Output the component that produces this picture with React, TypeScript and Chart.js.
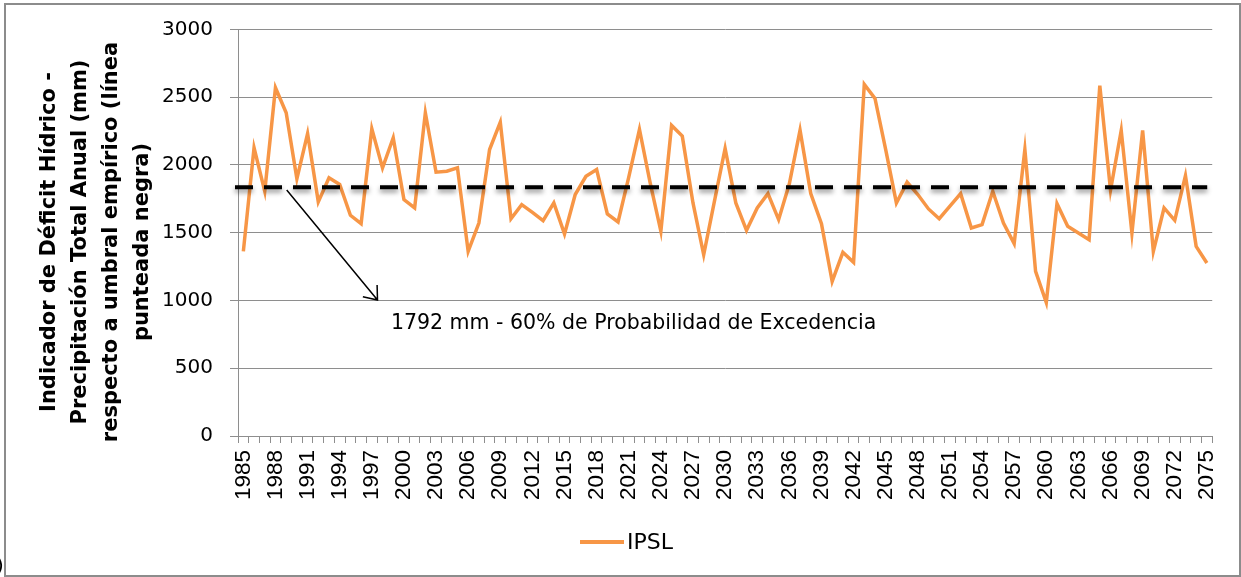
import React, { useEffect, useRef } from 'react';
import { Chart, registerables } from 'chart.js';

Chart.register(...registerables);

const years: string[] = [
  '1985', '1986', '1987', '1988', '1989', '1990', '1991', '1992', '1993', '1994',
  '1995', '1996', '1997', '1998', '1999', '2000', '2001', '2002', '2003', '2004',
  '2005', '2006', '2007', '2008', '2009', '2010', '2011', '2012', '2013', '2014',
  '2015', '2016', '2017', '2018', '2019', '2020', '2021', '2022', '2023', '2024',
  '2025', '2026', '2027', '2028', '2029', '2030', '2031', '2032', '2033', '2034',
  '2035', '2036', '2037', '2038', '2039', '2040', '2041', '2042', '2043', '2044',
  '2045', '2046', '2047', '2048', '2049', '2050', '2051', '2052', '2053', '2054',
  '2055', '2056', '2057', '2058', '2059', '2060', '2061', '2062', '2063', '2064',
  '2065', '2066', '2067', '2068', '2069', '2070', '2071', '2072', '2073', '2074',
  '2075',
];

const ipslValues: number[] = [
  1362, 2126, 1805, 2569, 2384, 1897, 2231, 1727, 1904, 1855,
  1628, 1566, 2266, 1978, 2200, 1744, 1682, 2384, 1946, 1953,
  1978, 1362, 1571, 2113, 2315, 1603, 1707, 1650, 1589, 1719,
  1490, 1781, 1916, 1966, 1638, 1579, 1910, 2261, 1867, 1510,
  2291, 2212, 1719, 1337, 1731, 2121, 1719, 1517, 1682, 1788,
  1596, 1860, 2256, 1788, 1566, 1140, 1355, 1281, 2594, 2490,
  2113, 1719, 1872, 1781, 1675, 1603, 1695, 1788, 1534, 1559,
  1805, 1571, 1419, 2113, 1214, 985, 1714, 1547, 1497, 1448,
  2585, 1813, 2254, 1497, 2254, 1362, 1682, 1591, 1921, 1399,
  1276,
];

const yTickLabels: string[] = ['0', '500', '1000', '1500', '2000', '2500', '3000'];

const seriesLabel = 'IPSL';
const thresholdValue = 1835;
const annotationText = '1792 mm - 60% de Probabilidad de Excedencia';
const yAxisTitle: string[] = [
  'Indicador de Déficit Hídrico -',
  'Precipitación Total Anual (mm)',
  'respecto a umbral empírico (línea',
  'punteada negra)',
];
// arrow / annotation anchor points in data units (category index, value)
const arrowFrom = { x: 4.05, y: 1815 };
const arrowTo = { x: 12.53, y: 1003 };
const annotationAnchor = { x: 13.78, y: 787 };

const ORANGE = '#F79646';
const GRID = '#8e8e8e';

const overlayPlugin = {
  id: 'overlay',
  afterDatasetsDraw(chart: any) {
    const { ctx, chartArea } = chart;
    const xs = chart.scales.x;
    const ys = chart.scales.y;
    // threshold dashed line
    const ty = ys.getPixelForValue(thresholdValue);
    ctx.save();
    ctx.strokeStyle = '#000';
    ctx.lineWidth = 4;
    ctx.lineCap = 'butt';
    ctx.setLineDash([18, 11]);
    ctx.shadowColor = 'rgba(0,0,0,0.45)';
    ctx.shadowBlur = 5;
    ctx.shadowOffsetY = 3;
    ctx.beginPath();
    ctx.moveTo(chartArea.left - 3, ty);
    ctx.lineTo(chartArea.right - 5, ty);
    ctx.stroke();
    ctx.restore();

    // arrow
    const x1 = xs.getPixelForValue(arrowFrom.x);
    const y1 = ys.getPixelForValue(arrowFrom.y);
    const x2 = xs.getPixelForValue(arrowTo.x);
    const y2 = ys.getPixelForValue(arrowTo.y);
    ctx.save();
    ctx.strokeStyle = '#000';
    ctx.lineWidth = 1.5;
    ctx.beginPath();
    ctx.moveTo(x1, y1);
    ctx.lineTo(x2, y2);
    const ang = Math.atan2(y2 - y1, x2 - x1);
    const head = 15;
    const spread = (38 * Math.PI) / 180;
    ctx.moveTo(x2 - head * Math.cos(ang - spread), y2 - head * Math.sin(ang - spread));
    ctx.lineTo(x2, y2);
    ctx.lineTo(x2 - head * Math.cos(ang + spread), y2 - head * Math.sin(ang + spread));
    ctx.stroke();
    ctx.restore();

    // annotation text
    ctx.save();
    ctx.fillStyle = '#000';
    ctx.font = '20.5px "DejaVu Sans"';
    ctx.textAlign = 'left';
    ctx.textBaseline = 'alphabetic';
    ctx.fillText(annotationText, xs.getPixelForValue(annotationAnchor.x), ys.getPixelForValue(annotationAnchor.y));
    ctx.restore();
  },
  afterDraw(chart: any) {
    const { ctx } = chart;
    // y axis title (rotated, 4 lines)
    ctx.save();
    ctx.fillStyle = '#000';
    ctx.font = 'bold 21px "DejaVu Sans"';
    ctx.textAlign = 'center';
    ctx.textBaseline = 'middle';
    const lineGap = 31;
    const centerX = 96;
    const centerY = 242;
    yAxisTitle.forEach((line, i) => {
      const lx = centerX + (i - (yAxisTitle.length - 1) / 2) * lineGap;
      ctx.save();
      ctx.translate(lx, centerY);
      ctx.rotate(-Math.PI / 2);
      ctx.fillText(line, 0, 0);
      ctx.restore();
    });
    ctx.restore();

    // legend
    const ds = chart.data.datasets[0];
    ctx.save();
    ctx.strokeStyle = ds.borderColor;
    ctx.lineWidth = 4;
    ctx.beginPath();
    ctx.moveTo(580, 542);
    ctx.lineTo(624, 542);
    ctx.stroke();
    ctx.fillStyle = '#000';
    ctx.font = '22px "DejaVu Sans"';
    ctx.textAlign = 'left';
    ctx.textBaseline = 'middle';
    ctx.fillText(ds.label, 627, 543);
    ctx.restore();

    // outer frame
    ctx.save();
    ctx.strokeStyle = '#8c8c8c';
    ctx.lineWidth = 2;
    ctx.strokeRect(5, 4, 1235, 572);
    ctx.fillStyle = '#000';
    ctx.font = '20px "DejaVu Sans"';
    ctx.textBaseline = 'alphabetic';
    ctx.fillText(')', -4, 572);
    ctx.restore();
  },
};

export default function App() {
  const canvasRef = useRef<HTMLCanvasElement | null>(null);

  useEffect(() => {
    const canvas = canvasRef.current;
    if (!canvas) return;
    const chart = new Chart(canvas, {
      type: 'line',
      data: {
        labels: years,
        datasets: [
          {
            label: seriesLabel,
            data: ipslValues,
            borderColor: ORANGE,
            backgroundColor: ORANGE,
            borderWidth: 3.5,
            pointRadius: 0,
            pointHoverRadius: 0,
            tension: 0,
            fill: false,
          },
        ],
      },
      options: {
        responsive: false,
        animation: false,
        devicePixelRatio: 1,
        layout: { padding: { left: 0, top: 29.3, right: 23.5, bottom: 61 } },
        plugins: {
          legend: { display: false },
          tooltip: { enabled: false },
          title: { display: false },
        },
        scales: {
          x: {
            type: 'category',
            offset: true,
            grid: {
              display: true,
              drawOnChartArea: false,
              drawTicks: true,
              tickLength: 7,
              offset: true,
              color: GRID,
            },
            border: { display: true, color: GRID, width: 1 },
            ticks: {
              autoSkip: false,
              minRotation: 90,
              maxRotation: 90,
              padding: 7,
              color: '#000',
              font: { family: '"Liberation Sans", Arial, sans-serif', size: 22.5 },
              callback: function (this: any, _v: any, index: number) {
                return index % 3 === 0 ? years[index] : '';
              },
            },
            afterFit: (scale: any) => {
              scale.height = 80;
            },
          },
          y: {
            min: 0,
            max: 3000,
            grid: {
              color: GRID,
              drawTicks: true,
              tickLength: 8,
            },
            border: { display: true, color: GRID, width: 1 },
            ticks: {
              stepSize: 500,
              padding: 17,
              color: '#000',
              font: { family: '"DejaVu Sans", sans-serif', size: 20 },
              callback: function (_v: any, index: number) {
                return yTickLabels[index];
              },
            },
            afterFit: (scale: any) => {
              scale.width = 238;
            },
          },
        },
      },
      plugins: [overlayPlugin],
    });
    return () => {
      chart.destroy();
    };
  }, []);

  return (
    <div style={{ position: 'absolute', left: 0, top: 0, width: 1241, height: 577, background: '#fff' }}>
      <canvas ref={canvasRef} width={1241} height={577} style={{ display: 'block' }} />
    </div>
  );
}
